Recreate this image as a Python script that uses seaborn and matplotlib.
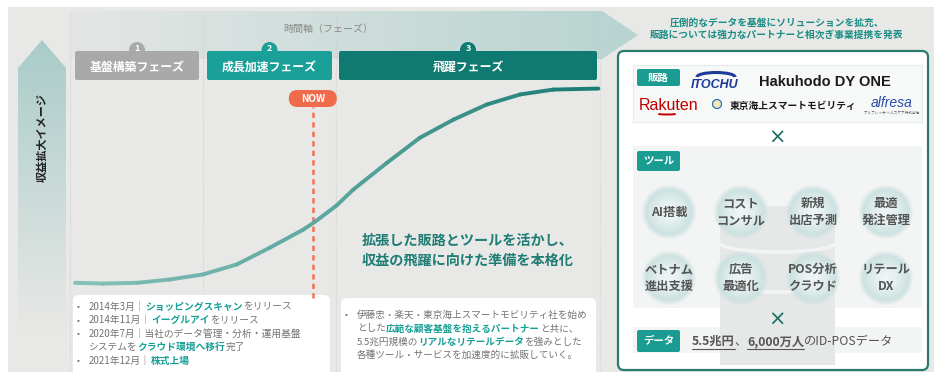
import numpy as np
import pandas as pd
import matplotlib
matplotlib.use("Agg")
import matplotlib.pyplot as plt
import seaborn as sns
from matplotlib.patches import FancyBboxPatch, Polygon, Circle, Rectangle, Ellipse, Arc
from matplotlib.collections import LineCollection
from matplotlib.colors import to_rgb, LinearSegmentedColormap

# ---------------- data ----------------
phase_nums = ["1", "2", "3"]
phase_names = ["基盤構築フェーズ", "成長加速フェーズ", "飛躍フェーズ"]
timeline = [0, 5.4, 11.8, 18.1, 24.4, 30.8, 37.1, 43.5, 45.6, 46.7, 49.8, 53.0, 59.4,
            65.7, 72.1, 78.4, 84.8, 91.1, 99.7]
revenue = [0.1, -0.3, 0.1, 1.8, 4.4, 9.5, 18.1, 27.4, 31.2, 33.4, 39.7, 47.9, 61.6,
           74.5, 83.8, 91.5, 96.7, 99.2, 99.7]
now_position = 45.3
axis_title = "時間軸（フェーズ）"
y_title = "収益拡大イメージ"
headline = ["拡張した販路とツールを活かし、", "収益の飛躍に向けた準備を本格化"]
right_header = ["圧倒的なデータを基盤にソリューションを拡充、",
                "販路については強力なパートナーと相次ぎ事業提携を発表"]
tools = [["AI搭載"], ["コスト", "コンサル"], ["新規", "出店予測"], ["最適", "発注管理"],
         ["ベトナム", "進出支援"], ["広告", "最適化"], ["POS分析", "クラウド"], ["リテール", "DX"]]
history = [
    [("2014年3月｜", 0), ("ショッピングスキャン", 1), ("をリリース", 0)],
    [("2014年11月｜", 0), ("イーグルアイ", 1), ("をリリース", 0)],
    [("2020年7月｜当社のデータ管理・分析・運用基盤", 0)],
    [("システムを", 0), ("クラウド環境へ移行", 1), ("完了", 0)],
    [("2021年12月｜", 0), ("株式上場", 1)],
]
history_bullets = [True, True, True, False, True]
plan = [
    [("伊藤忠・楽天・東京海上スマートモビリティ社を始め", 0)],
    [("とした", 0), ("広範な顧客基盤を抱えるパートナー", 1), ("と共に、", 0)],
    [("5.5兆円規模の", 0), ("リアルなリテールデータ", 1), ("を強みとした", 0)],
    [("各種ツール・サービスを加速度的に拡販していく。", 0)],
]
plan_bullets = [True, False, False, False]
data_line = [("5.5兆円", 1), ("、", 0), ("6,000万人", 1), ("のID-POSデータ", 0)]

# ---------------- style ----------------
sns.set_theme(style="white")
plt.rcParams["font.family"] = ["Noto Sans CJK JP", "DejaVu Sans"]

BG = "#e8e8e6"
GRAY_T = "#737373"
TEAL_T = "#16a096"
TEAL_D = "#1e7d74"
PH_COL = ["#a9a9a9", "#1aa098", "#0f7a71"]

fig = plt.figure(figsize=(9.34, 3.72), dpi=100)
ov = fig.add_axes([0, 0, 1, 1])
ov.set_zorder(0)
ov.axis("off")
R = fig.canvas.get_renderer()

ov.add_patch(Rectangle((0, 0), 934, 372, facecolor="white", edgecolor="none", zorder=0))
ov.add_patch(Rectangle((8, 7), 926, 365, facecolor=BG, edgecolor="none", zorder=0))


def gradient_poly(pts, c0, c1, vertical, x0, x1, y0, y1, z=1):
    poly = Polygon(pts, closed=True, facecolor="none", edgecolor="none", transform=ov.transData)
    ov.add_patch(poly)
    a = np.array(to_rgb(c0)); b = np.array(to_rgb(c1))
    t = np.linspace(0, 1, 256)
    g = a[None, :] * (1 - t[:, None]) + b[None, :] * t[:, None]
    img = g[:, None, :] if vertical else g[None, :, :]
    im = ov.imshow(img, extent=(x0, x1, y1, y0), origin="upper", aspect="auto",
                   interpolation="bilinear", zorder=z)
    im.set_clip_path(poly)


# top time band arrow
gradient_poly([(70, 11), (602, 11), (638, 35), (602, 59), (70, 59)],
              "#e4e6e5", "#b7d4d0", False, 70, 638, 11, 59)
# vertical revenue arrow
gradient_poly([(18, 68), (42, 40), (66, 68), (66, 330), (18, 330)],
              "#a9ccc9", BG, True, 18, 66, 40, 330)

# dotted separators
for xs in [70, 203, 336, 600]:
    ov.plot([xs, xs], [14, 372], color="#cfcfcf", lw=0.8, ls=(0, (1, 1.5)), zorder=2)

ov.text(328, 29, axis_title, fontsize=7.2, color="#8a8a8a", ha="center", va="center", zorder=5)
ov.text(42, 137, y_title, fontsize=8, color="#222222", fontweight="bold", rotation=90,
        ha="center", va="center", zorder=5)

# phase boxes
boxes = [(75, 199), (207, 332), (339, 597)]
for (x0, x1), num, name, col in zip(boxes, phase_nums, phase_names, PH_COL):
    ov.add_patch(FancyBboxPatch((x0, 51), x1 - x0, 29, boxstyle="round,pad=0,rounding_size=2",
                                facecolor=col, edgecolor="none", zorder=4))
    cx = (x0 + x1) / 2
    ov.add_patch(Circle((cx, 50), 8, facecolor=col, edgecolor="none", zorder=4))
    ov.text(cx, 48.5, num, fontsize=6.5, color="white", fontweight="bold", ha="center",
            va="center", zorder=6)
    ov.text(cx, 67, name, fontsize=8.6, color="white", fontweight="bold", ha="center",
            va="center", zorder=6)

# ---------------- curve ----------------
cax = fig.add_axes([75 / 934, 89 / 372, 525 / 934, 195 / 372])
cax.set_zorder(1)
df = pd.DataFrame({"time": timeline, "revenue": revenue})
sns.lineplot(data=df, x="time", y="revenue", ax=cax, color="#4f9f97", linewidth=2.8)
line = cax.get_lines()[0]
line.set_clip_on(False)
line.set_solid_joinstyle("round")
# colour the drawn line with a light-to-dark teal gradient
xy = line.get_xydata()
segs = np.stack([xy[:-1], xy[1:]], axis=1)
cmap = LinearSegmentedColormap.from_list("tl", ["#86c0b9", "#5aa69e", "#167a70"])
lc = LineCollection(segs, cmap=cmap, linewidths=2.8, capstyle="round", joinstyle="round",
                    clip_on=False, zorder=3)
lc.set_array((xy[:-1, 0] + xy[1:, 0]) / 2)
lc.set_clim(0, 100)
cax.add_collection(lc)
line.set_visible(False)

cax.axvline(now_position, ymin=-0.075, ymax=0.905, color="#f0795a", lw=1.9,
            ls=(0, (2.0, 1.6)), clip_on=False, zorder=2)
cax.set_xlim(0, 100)
cax.set_ylim(0, 100)
cax.axis("off")
cax.patch.set_alpha(0)

xnow = cax.transData.transform((now_position, 0))[0]
ov.add_patch(FancyBboxPatch((xnow - 24, 90), 48, 17, boxstyle="round,pad=0,rounding_size=8.5",
                            facecolor="#f06b4c", edgecolor="none", zorder=6))
ov.text(xnow, 98.5, "NOW", fontsize=7.2, color="white", fontweight="bold", ha="center",
        va="center", zorder=7)

# headline
for i, ln in enumerate(headline):
    ov.text(468, 241 + 20 * i, ln, fontsize=10.2, color=TEAL_D, fontweight="bold",
            ha="center", va="center", zorder=6)


def rich(x, y, parts, size, z=8):
    for s, hi in parts:
        t = ov.text(x, y, s, fontsize=size, color=(TEAL_T if hi else GRAY_T),
                    fontweight=("bold" if hi else "normal"), ha="left", va="center", zorder=z)
        x += t.get_window_extent(renderer=R).width
    return x


# bottom boxes
ov.add_patch(FancyBboxPatch((73, 295), 257, 82, boxstyle="round,pad=0,rounding_size=6",
                            facecolor="white", edgecolor="none", zorder=5))
ov.add_patch(FancyBboxPatch((341, 298), 255, 80, boxstyle="round,pad=0,rounding_size=6",
                            facecolor="white", edgecolor="none", zorder=5))
for i, (parts, b) in enumerate(zip(history, history_bullets)):
    y = 306.5 + 13.6 * i
    if b:
        ov.text(78, y, "•", fontsize=6.5, color=GRAY_T, ha="center", va="center", zorder=8)
    rich(89, y, parts, 7.0)
for i, (parts, b) in enumerate(zip(plan, plan_bullets)):
    y = 315 + 13.4 * i
    if b:
        ov.text(346, y, "•", fontsize=6.5, color=GRAY_T, ha="center", va="center", zorder=8)
    rich(357, y, parts, 6.9)

# ---------------- right panel ----------------
for i, ln in enumerate(right_header):
    ov.text(777, 22.5 + 12.5 * i, ln, fontsize=7.0, color="#1a8d84", fontweight="bold",
            ha="center", va="center", zorder=6)

ov.add_patch(FancyBboxPatch((618, 51), 310, 319, boxstyle="round,pad=0,rounding_size=6",
                            facecolor="white", edgecolor="#2b7a72", lw=1.6, zorder=3))
ov.add_patch(Rectangle((633, 65), 289, 57, facecolor="#f7f8f8", edgecolor="#e6ecea", lw=0.8, zorder=3.2))
ov.add_patch(Rectangle((633, 146), 289, 162, facecolor="#f3f4f4", edgecolor="none", zorder=3.2))
ov.add_patch(Rectangle((633, 327), 289, 26, facecolor="#f3f4f4", edgecolor="none", zorder=3.2))
# database cylinder (background)
cyl_c = "#e6e8e8"
ov.add_patch(Rectangle((720, 215), 115, 150, facecolor=cyl_c, edgecolor="none", zorder=3.3))
ov.add_patch(Ellipse((777.5, 215), 115, 18, facecolor=cyl_c, edgecolor="none", zorder=3.3))
for yy in [243, 283]:
    ov.add_patch(Arc((777.5, yy), 115, 18, theta1=0, theta2=180, color="#f3f4f4", lw=2.5, zorder=3.35))

# labels
for lab, y0, h in [("販路", 69, 17), ("ツール", 151, 20), ("データ", 330, 22)]:
    ov.add_patch(FancyBboxPatch((637, y0), 43, h, boxstyle="round,pad=0,rounding_size=2",
                                facecolor="#1a9c93", edgecolor="none", zorder=6))
    ov.text(658.5, y0 + h / 2, lab, fontsize=7.5, color="white", fontweight="bold",
            ha="center", va="center", zorder=7)

# partner logos
ov.text(715, 85, "ITOCHU", fontsize=9, color="#1b3a99", fontweight="bold", fontstyle="italic",
        family=["Liberation Sans"], ha="center", va="center", zorder=7)
ov.add_patch(Arc((716, 77), 38, 9, theta1=180, theta2=360, color="#1b3a99", lw=2.2, zorder=7))
ov.text(825, 81.5, "Hakuhodo DY ONE", fontsize=10.5, color="#1a1a1a", fontweight="bold",
        family=["Liberation Sans"], ha="center", va="center", zorder=7)
ov.text(669, 105, "Rakuten", fontsize=11.5, color="#bf0000", family=["Liberation Sans"],
        ha="center", va="center", zorder=7)
ov.add_patch(Arc((667, 110), 40, 9, theta1=25, theta2=155, color="#bf0000", lw=1.4, zorder=7))
ov.add_patch(Circle((717, 104), 4.5, facecolor="#f2e8b8", edgecolor="#2f6fb5", lw=0.9, zorder=7))
ov.text(793, 106, "東京海上スマートモビリティ", fontsize=7.0, color="#1a1a1a", fontweight="bold",
        ha="center", va="center", zorder=7)
ov.text(892, 103, "alfresa", fontsize=10, color="#2a4aa6", fontstyle="italic",
        family=["Liberation Sans"], ha="center", va="center", zorder=7)
ov.text(892, 113, "アルフレッサ ヘルスケア株式会社", fontsize=2.6, color="#555555",
        ha="center", va="center", zorder=7)

# multiplication signs
for yy in [138, 320]:
    ov.text(777, yy, "×", fontsize=15, color="#1f6f68", ha="center", va="center", zorder=7,
            family=["DejaVu Sans"])

# tool bubbles
col_x = [669, 741, 813, 886]
row_y = [212, 278]
rad = 28
yy_, xx_ = np.mgrid[-1:1:80j, -1:1:80j]
rr = np.sqrt(xx_ ** 2 + yy_ ** 2)
c_in = np.array(to_rgb("#eef5f5")); c_out = np.array(to_rgb("#c9e0df"))
tt = np.clip(rr / 0.85, 0, 1)[..., None] ** 1.6
rgba = np.zeros((80, 80, 4))
rgba[..., :3] = c_in * (1 - tt) + c_out * tt
rgba[..., 3] = np.clip((1.0 - rr) / 0.2, 0, 1)
for k, lines in enumerate(tools):
    cx = col_x[k % 4]; cy = row_y[k // 4]
    ov.imshow(rgba, extent=(cx - rad, cx + rad, cy + rad, cy - rad), origin="upper",
              interpolation="bilinear", aspect="auto", zorder=4)
    if len(lines) == 1:
        ov.text(cx, cy, lines[0], fontsize=8.8, color="#555555", fontweight="bold",
                ha="center", va="center", zorder=7)
    else:
        for j, s in enumerate(lines):
            ov.text(cx, cy - 8.5 + 17 * j, s, fontsize=8.8, color="#555555", fontweight="bold",
                    ha="center", va="center", zorder=7)

# data line
x = 692
for s, hi in data_line:
    t = ov.text(x, 341.5, s, fontsize=8.8, color="#555555", fontweight=("bold" if hi else "normal"),
                ha="left", va="center", zorder=7)
    w = t.get_window_extent(renderer=R).width
    if hi:
        ov.plot([x, x + w], [348.5, 348.5], color="#555555", lw=0.8, zorder=7)
    x += w

ov.set_xlim(0, 934)
ov.set_ylim(372, 0)
fig.savefig("out.png", dpi=100)
